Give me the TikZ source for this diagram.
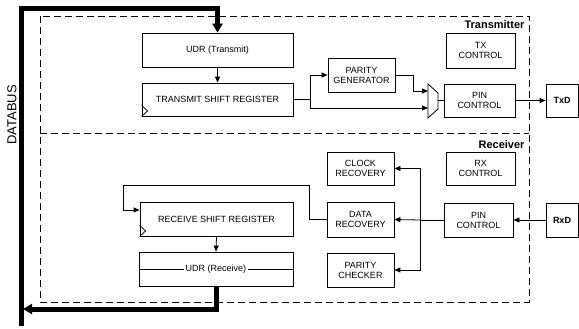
\documentclass[tikz,border=0pt]{standalone}
\usepackage{fontspec}
\setmainfont{Liberation Sans}
\usetikzlibrary{arrows.meta}
\tikzset{
  blk/.style={draw, line width=0.8pt, align=center, inner sep=0pt,
    font=\fontsize{9}{10}\selectfont},
  sig/.style={line width=0.8pt, -{Triangle[length=6pt,width=5pt]}},
  wire/.style={line width=0.8pt},
  bus/.style={line width=5pt},
  frame/.style={line width=0.8pt, dash pattern=on 7pt off 4pt},
  clk/.style={line width=0.8pt}
}
\begin{document}
\begin{tikzpicture}[x=1pt,y=-1pt]
\useasboundingbox (0,0) rectangle (579,329);
%dashed frames
\draw[frame] (40,16) rectangle (529,302);
\draw[frame] (40,133) -- (529,133);
\node[anchor=east, font=\fontsize{11}{12}\selectfont\bfseries] (txlbl) at (528,25) {Transmitter};
\node[anchor=east, font=\fontsize{11}{12}\selectfont\bfseries] (rxlbl) at (528,145) {Receiver};
%transmitter blocks
\node[blk, minimum width=151pt, minimum height=34pt] (udrt) at (217.5,50) {UDR (Transmit)};
\node[blk, minimum width=151pt, minimum height=33pt] (tsr) at (217.5,99.5) {TRANSMIT SHIFT REGISTER};
\node[blk, minimum width=67pt, minimum height=34pt] (pgen) at (361.5,75) {PARITY\\GENERATOR};
\node[blk, minimum width=71pt, minimum height=33pt] (pint) at (479.5,100.5) {PIN\\CONTROL};
\node[blk, minimum width=69pt, minimum height=35pt] (txc) at (480.5,50.5) {TX\\CONTROL};
\node[blk, minimum width=32pt, minimum height=33pt, font=\fontsize{9}{10}\selectfont\bfseries] (txd) at (562,100.5) {TxD};
%multiplexer
\coordinate (mi1) at (428,91);
\coordinate (mi2) at (428,108);
\coordinate (mo) at (438,100.5);
\draw[wire] (428,84) -- (438,93) -- (438,109) -- (428,118) -- cycle;
%receiver blocks
\node[blk, minimum width=67pt, minimum height=33pt] (clkr) at (360.5,168.5) {CLOCK\\RECOVERY};
\node[blk, minimum width=69pt, minimum height=33pt] (rxc) at (480.5,168.5) {RX\\CONTROL};
\node[blk, minimum width=67pt, minimum height=35pt] (drec) at (360.5,219.5) {DATA\\RECOVERY};
\node[blk, minimum width=69pt, minimum height=34pt] (pinr) at (478.5,220) {PIN\\CONTROL};
\node[blk, minimum width=67pt, minimum height=34pt] (pchk) at (360.5,270) {PARITY\\CHECKER};
\node[blk, minimum width=32pt, minimum height=34pt, font=\fontsize{9}{10}\selectfont\bfseries] (rxd) at (562,220) {RxD};
\node[blk, minimum width=153pt, minimum height=34pt] (rsr) at (216.5,219) {RECEIVE SHIFT REGISTER};
\node[blk, minimum width=154pt, minimum height=34pt] (udrr) at (216,269) {};
\node[font=\fontsize{9}{10}\selectfont, inner sep=1.5pt] (udrrlbl) at (udrr.center) {UDR (Receive)};
\draw[wire] (udrr.west) -- (udrrlbl.west);
\draw[wire] (udrrlbl.east) -- (udrr.east);
%clock marks
\draw[clk] ([yshift=11pt]tsr.south west) -- ([xshift=6pt,yshift=5.5pt]tsr.south west) -- (tsr.south west);
\draw[clk] ([yshift=11pt]rsr.south west) -- ([xshift=6pt,yshift=5.5pt]rsr.south west) -- (rsr.south west);
%databus
\coordinate (bustop) at (21,9);
\coordinate (busend) at (21,326);
\coordinate (busin) at (21,309);
\draw[bus, -{Triangle[length=9pt,width=10pt]}] (busend) -- (bustop) -| (udrt.north);
\draw[bus, -{Triangle[length=9pt,width=10pt]}] (udrr.south) |- ([xshift=2pt]busin);
\node[rotate=90, font=\fontsize{13}{14}\selectfont] (dblbl) at (12,115) {DATABUS};
%transmit path
\coordinate (tbr) at (310,99.5);
\draw[sig] (udrt.south) -- (tsr.north);
\draw[wire] (tsr.east) -- (tbr);
\draw[sig] (tbr) |- (pgen.west);
\draw[sig] (tbr) |- (mi2);
\draw[sig] (pgen.east) -- ++(18,0) |- (mi1);
\draw[wire] (mo) -- (pint.west);
\draw[sig] (pint.east) -- (txd.west);
%receive path
\coordinate (rbr) at (420,220);
\coordinate (rfb) at (123,185);
\draw[sig] (rxd.west) -- (pinr.east);
\draw[wire] (pinr.west) -- (rbr);
\draw[sig] (rbr) -- (drec.east);
\draw[sig] (rbr) |- (clkr.east);
\draw[sig] (rbr) |- (pchk.east);
\draw[sig] (drec.west) -- ++(-17,0) |- (rfb) |- ([yshift=9pt]rsr.west);
\draw[sig] (rsr.south) -- (udrr.north);
\end{tikzpicture}
\end{document}
